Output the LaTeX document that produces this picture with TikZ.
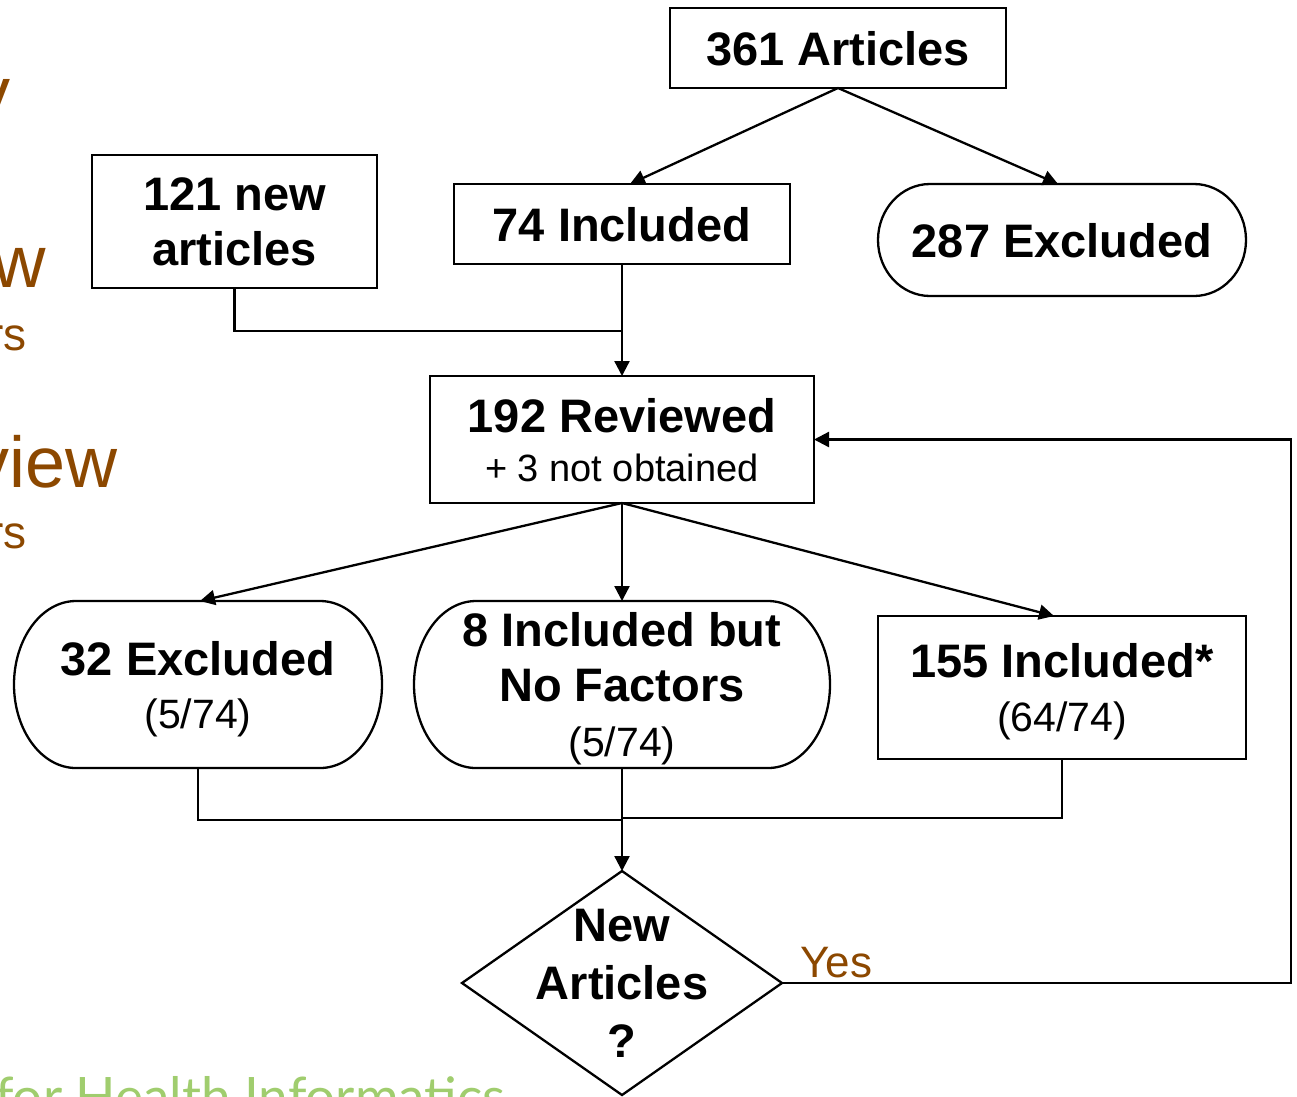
\documentclass[tikz,border=0pt]{standalone}
\usepackage{fontspec}
\setmainfont{Liberation Sans}
\newfontfamily\footerfont{Lato}
\usetikzlibrary{arrows.meta}
\definecolor{slidebrown}{RGB}{140,72,0}
\definecolor{slidegreen}{RGB}{160,205,110}

% elliptical-ended outline around a rectangular node: #1 name, #2 x radius, #3 y radius
\newcommand\pillframe[3]{%
  \draw[boxline] ([xshift=#2pt]#1.north west) -- ([xshift=-#2pt]#1.north east)
    .. controls ([xshift=-0.448*#2pt]#1.north east) and ([yshift=0.552*#3pt]#1.east) .. (#1.east)
    .. controls ([yshift=-0.552*#3pt]#1.east) and ([xshift=-0.448*#2pt]#1.south east) .. ([xshift=-#2pt]#1.south east)
    -- ([xshift=#2pt]#1.south west)
    .. controls ([xshift=0.448*#2pt]#1.south west) and ([yshift=-0.552*#3pt]#1.west) .. (#1.west)
    .. controls ([yshift=0.552*#3pt]#1.west) and ([xshift=0.448*#2pt]#1.north west) .. cycle;}

\tikzset{
  boxline/.style={line width=2.3pt, black},
  bigtext/.style={font=\fontsize{47}{55}\selectfont\bfseries, align=center,
                  inner sep=0pt, outer sep=0pt, text depth=0pt},
  squarebox/.style={bigtext, draw, boxline},
  pillbox/.style={bigtext},
  flow/.style={line width=2.3pt, -{Triangle[length=15pt,width=15pt]}},
  plain/.style={line width=2.3pt},
  slidetext/.style={text=slidebrown, inner sep=0pt, anchor=base east},
}
\newcommand\sublinefont{\fontsize{41}{55}\selectfont\mdseries}

\begin{document}
\begin{tikzpicture}[x=1pt,y=-1pt]
\useasboundingbox (0,0) rectangle (1297,1096);
\fill[white] (0,0) rectangle (1297,1096);

\begin{scope}
\clip (0,0) rectangle (1297,1096);
% slide text running off the left edge
\node[slidetext, font=\fontsize{72}{80}\selectfont] (sy) at (11,117) {y};
\node[slidetext, font=\fontsize{74}{80}\selectfont] (sw) at (46,287) {w};
\node[slidetext, font=\fontsize{46}{50}\selectfont] (srs1) at (27,350) {rs};
\node[slidetext, font=\fontsize{72}{80}\selectfont] (sview) at (118,487) {view};
\node[slidetext, font=\fontsize{46}{50}\selectfont] (srs2) at (27,548) {rs};
% footer
\node[text=slidegreen, inner sep=0pt, anchor=base west,
      font=\footerfont\fontsize{53}{60}\selectfont] (foot) at (-5,1115) {for Health Informatics};
\end{scope}

% boxes
\node[squarebox, minimum width=336, minimum height=80] (a361) at (838,48) {361 Articles};
\node[squarebox, minimum width=336, minimum height=80] (a74) at (622,224) {74 Included};
\node[squarebox, minimum width=285, minimum height=133] (a121) at (234.5,221.5) {121 new\\articles};
\node[pillbox, minimum width=368, minimum height=112] (a287) at (1062,240) {287 Excluded};
\pillframe{a287}{52}{56}
\node[squarebox, minimum width=384, minimum height=127] (a192) at (622,439.5)
  {192 Reviewed\\[-6pt]{\fontsize{38}{55}\selectfont\mdseries + 3 not obtained}};
\node[pillbox, minimum width=368, minimum height=167] (a32) at (198,684.5)
  {32 Excluded\\[-2pt]{\sublinefont (5/74)}};
\pillframe{a32}{62}{83.5}
\node[pillbox, minimum width=416, minimum height=167] (a8) at (622,684.5)
  {8 Included but\\No Factors\\{\sublinefont (5/74)}};
\pillframe{a8}{62}{83.5}
\node[squarebox, minimum width=368, minimum height=143] (a155) at (1062,687.5)
  {155 Included*\\[-1pt]{\sublinefont (64/74)}};
\node[bigtext, minimum width=320, minimum height=224] (dq) at (622,983)
  {New\\[3pt]Articles\\[3pt]?};
\draw[boxline] (dq.north) -- (dq.east) -- (dq.south) -- (dq.west) -- cycle;

% connectors
\draw[flow] (a361.south) -- ([xshift=8pt]a74.north);
\draw[flow] (a361.south) -- ([xshift=-4pt]a287.north);
\draw[flow] (a74.south) -- (a192.north);
\draw[plain] (a121.south) |- (a74.south |- 0,331);
\draw[flow] (a192.south) -- ([xshift=2pt]a32.north);
\draw[flow] (a192.south) -- (a8.north);
\draw[flow] (a192.south) -- ([xshift=-8pt]a155.north);
\draw[plain] (a32.south) |- (a8.south |- 0,820);
\draw[plain] (a155.south) |- (a8.south |- 0,818);
\draw[flow] (a8.south) -- (dq.north);
\coordinate (loop) at (1291,983);
\draw[flow] (dq.east) -- (loop) |- (a192.east);
\node[text=slidebrown, font=\fontsize{44}{50}\selectfont, inner sep=0pt, anchor=base west]
  (yes) at (800,977) {Yes};
\end{tikzpicture}
\end{document}
